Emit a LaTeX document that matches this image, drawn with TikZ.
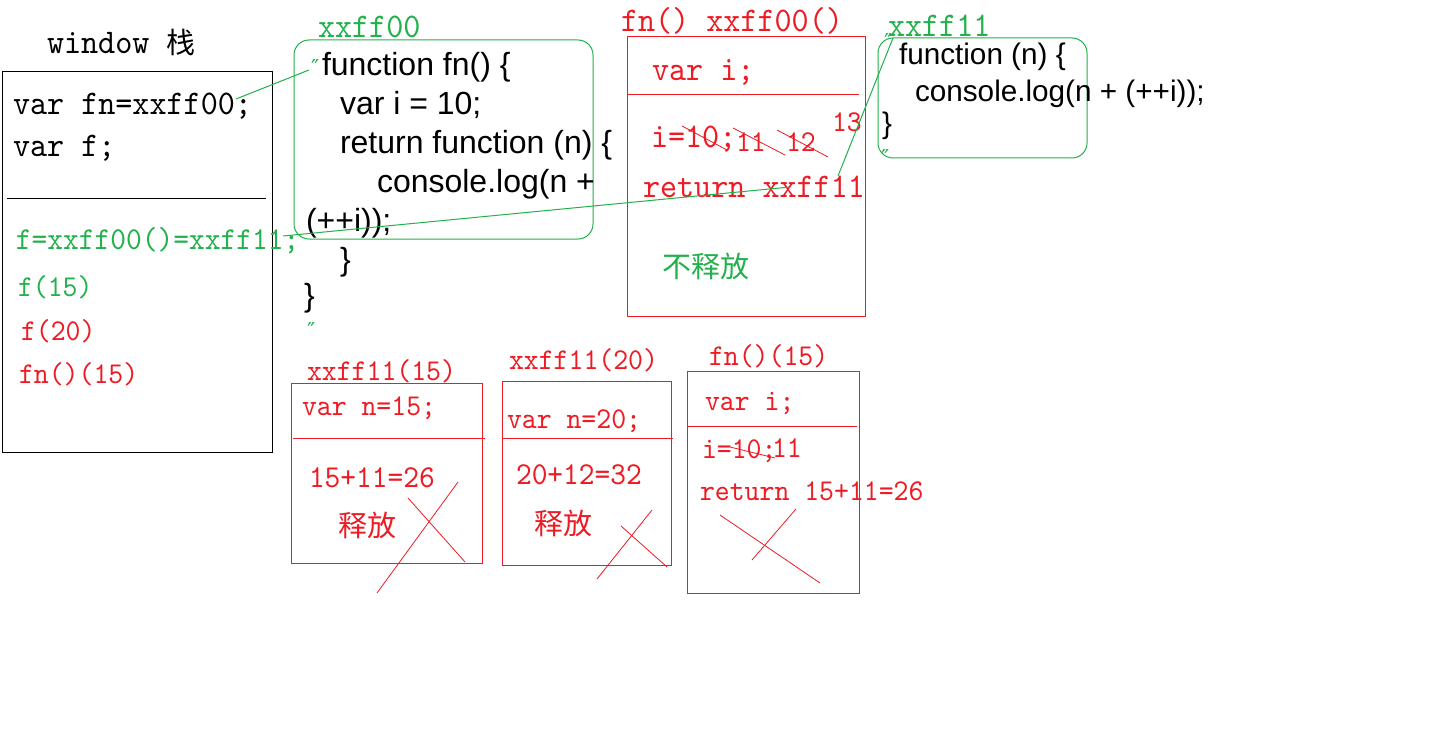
\documentclass[tikz,border=0pt]{standalone}
\usepackage{fontspec}
\setmainfont{Liberation Sans}
\newfontfamily\cjk{Noto Sans CJK SC}
\newfontfamily\djvs{DejaVu Sans}
\newfontfamily\simmono[FakeStretch=0.94]{lmmono10-regular.otf}
\definecolor{pred}{RGB}{237,28,36}
\definecolor{pgreen}{RGB}{34,177,76}
\newcommand\mbig{\simmono\fontsize{34.6}{38}\selectfont}
\newcommand\mmid{\simmono\fontsize{31.9}{36}\selectfont}
\newcommand\msml{\simmono\fontsize{30.2}{34}\selectfont}
\newcommand\jscode{\rmfamily\fontsize{32}{38}\selectfont}
\newcommand\jscodes{\rmfamily\fontsize{29.7}{36}\selectfont}
\newcommand\cjkf{\cjk\fontsize{29}{34}\selectfont}
\newcommand\qmark{\djvs\fontsize{22}{24}\selectfont ″}
\begin{document}
\begin{tikzpicture}[x=1pt,y=-1pt,line width=1pt,
  txt/.style={anchor=base west,inner sep=0pt,outer sep=0pt},
  box/.style={draw,anchor=north west,inner sep=0pt,outer sep=0pt},
  rbox/.style={box,draw=pred},
  gbox/.style={box,draw=pgreen,rounded corners=15pt},
  rtxt/.style={txt,text=pred},
  gtxt/.style={txt,text=pgreen},
  btxt/.style={txt,text=black},
  glink/.style={draw=pgreen,line width=1pt},
  rmark/.style={draw=pred,line width=0.8pt},
  rule/.style={line width=1pt}]
\useasboundingbox (0,0) rectangle (1442,730);
\fill[white] (0,0) rectangle (1442,730);

% window stack
\node[btxt,font=\mbig] (wtitle) at (47,54) {window {\cjkf 栈}};
\node[box,draw=black,minimum width=270pt,minimum height=380pt] (win) at (2,72) {};
\draw[rule,black] (7,199) -- (266,199);
\node[btxt,font=\mbig] (wfn) at (13,115) {var fn=xxff00;};
\node[btxt,font=\mbig] (wf) at (13,157) {var f;};
\node[gtxt,font=\mmid] (wassign) at (16,249) {f=xxff00()=xxff11;};
\node[gtxt,font=\msml] (wf15) at (18,296) {f(15)};
\node[rtxt,font=\msml] (wf20) at (21,340) {f(20)};
\node[rtxt,font=\msml] (wfn15) at (19,383) {fn()(15)};

% heap xxff00
\node[gtxt,font=\mbig] (l00) at (318,38) {xxff00};
\node[gbox,minimum width=299pt,minimum height=199pt] (h00) at (294,40) {};
\node[gtxt] (q1) at (311,76) {\qmark};
\node[btxt,font=\jscode] (c1) at (322,76) {function fn() \{};
\node[btxt,font=\jscode] (c2) at (340,115) {var i = 10;};
\node[btxt,font=\jscode] (c3) at (340,154) {return function (n) \{};
\node[btxt,font=\jscode] (c4) at (377,193) {console.log(n +};
\node[btxt,font=\jscode] (c5) at (306,231) {(++i));};
\node[btxt,font=\jscode] (c6) at (340,270) {\}};
\node[btxt,font=\jscode] (c7) at (304,306) {\}};
\node[gtxt] (q2) at (307,338) {\qmark};

% execution context fn() xxff00()
\node[rtxt,font=\mbig] (lA) at (621,32) {fn() xxff00()};
\node[rbox,minimum width=238pt,minimum height=279pt] (A) at (627,37) {};
\draw[rule,pred] (628,95) -- (859,95);
\node[rtxt,font=\mbig] (Avar) at (652,81) {var i;};
\node[rtxt,font=\mbig] (Ai) at (651,148) {i=10;};
\node[rtxt,font=\msml] (A11) at (736,152) {11};
\node[rtxt,font=\msml] (A12) at (786,152) {12};
\node[rtxt,font=\msml] (A13) at (832,132) {13};
\draw[rmark] (682,126) -- (727,150);
\draw[rmark] (733,128) -- (785,155);
\draw[rmark] (777,130) -- (828,157);
\node[rtxt,font=\mbig] (Aret) at (643,197) {return xxff11};
\node[gtxt,font=\cjkf] (Akeep) at (662,277) {不释放};

% heap xxff11
\node[gtxt,font=\mbig] (l11) at (888,37) {xxff11};
\node[gbox,minimum width=209pt,minimum height=120pt] (h11) at (878,38) {};
\node[gtxt] (q3) at (884,50) {\qmark};
\node[btxt,font=\jscodes] (d1) at (899,65) {function (n) \{};
\node[btxt,font=\jscodes] (d2) at (915,102) {console.log(n + (++i));};
\node[btxt,font=\jscodes] (d3) at (882,134) {\}};
\node[gtxt] (q4) at (881,166) {\qmark};

% green links
\coordinate (g1a) at (236,99);
\coordinate (g1b) at (309,70);
\coordinate (g2a) at (283,236);
\coordinate (g2b) at (790,187);
\coordinate (g3a) at (838,176);
\coordinate (g3b) at (893,38);
\draw[glink] (g1a) -- (g1b);
\draw[glink] (g2a) -- (g2b);
\draw[glink] (g3a) -- (g3b);

% context xxff11(15)
\node[rtxt,font=\msml] (lB) at (307,380) {xxff11(15)};
\node[rbox,minimum width=191pt,minimum height=180pt] (B) at (291,383) {};
\draw[rule,pred] (293,438) -- (485,438);
\node[rtxt,font=\msml] (Bvar) at (302,415) {var n=15;};
\node[rtxt,font=\mmid] (Bsum) at (309,487) {15+11=26};
\node[rtxt,font=\cjkf] (Brel) at (338,536) {释放};
\draw[rmark] (377,593) -- (458,482);
\draw[rmark] (408,498) -- (465,562);

% context xxff11(20)
\node[rtxt,font=\msml] (lC) at (509,369) {xxff11(20)};
\node[rbox,minimum width=169pt,minimum height=184pt] (C) at (502,381) {};
\draw[rule,pred] (502,438) -- (673,438);
\node[rtxt,font=\msml] (Cvar) at (507,428) {var n=20;};
\node[rtxt,font=\mmid] (Csum) at (516,484) {20+12=32};
\node[rtxt,font=\cjkf] (Crel) at (534,534) {释放};
\draw[rmark] (597,579) -- (652,510);
\draw[rmark] (621,526) -- (667,567);

% context fn()(15)
\node[rtxt,font=\msml] (lD) at (709,365) {fn()(15)};
\node[rbox,minimum width=172pt,minimum height=222pt] (D) at (687,371) {};
\draw[rule,pred] (687,426) -- (857,426);
\node[rtxt,font=\msml] (Dvar) at (705,410) {var i;};
\node[rtxt,font=\msml] (Di) at (702,458) {i=10;};
\node[rtxt,font=\msml] (D11) at (772,457) {11};
\draw[rmark] (730,447) -- (775,458);
\node[rtxt,font=\msml] (Dret) at (700,500) {return 15+11=26};
\draw[rmark] (720,515) -- (820,583);
\draw[rmark] (752,560) -- (796,509);
\end{tikzpicture}
\end{document}
